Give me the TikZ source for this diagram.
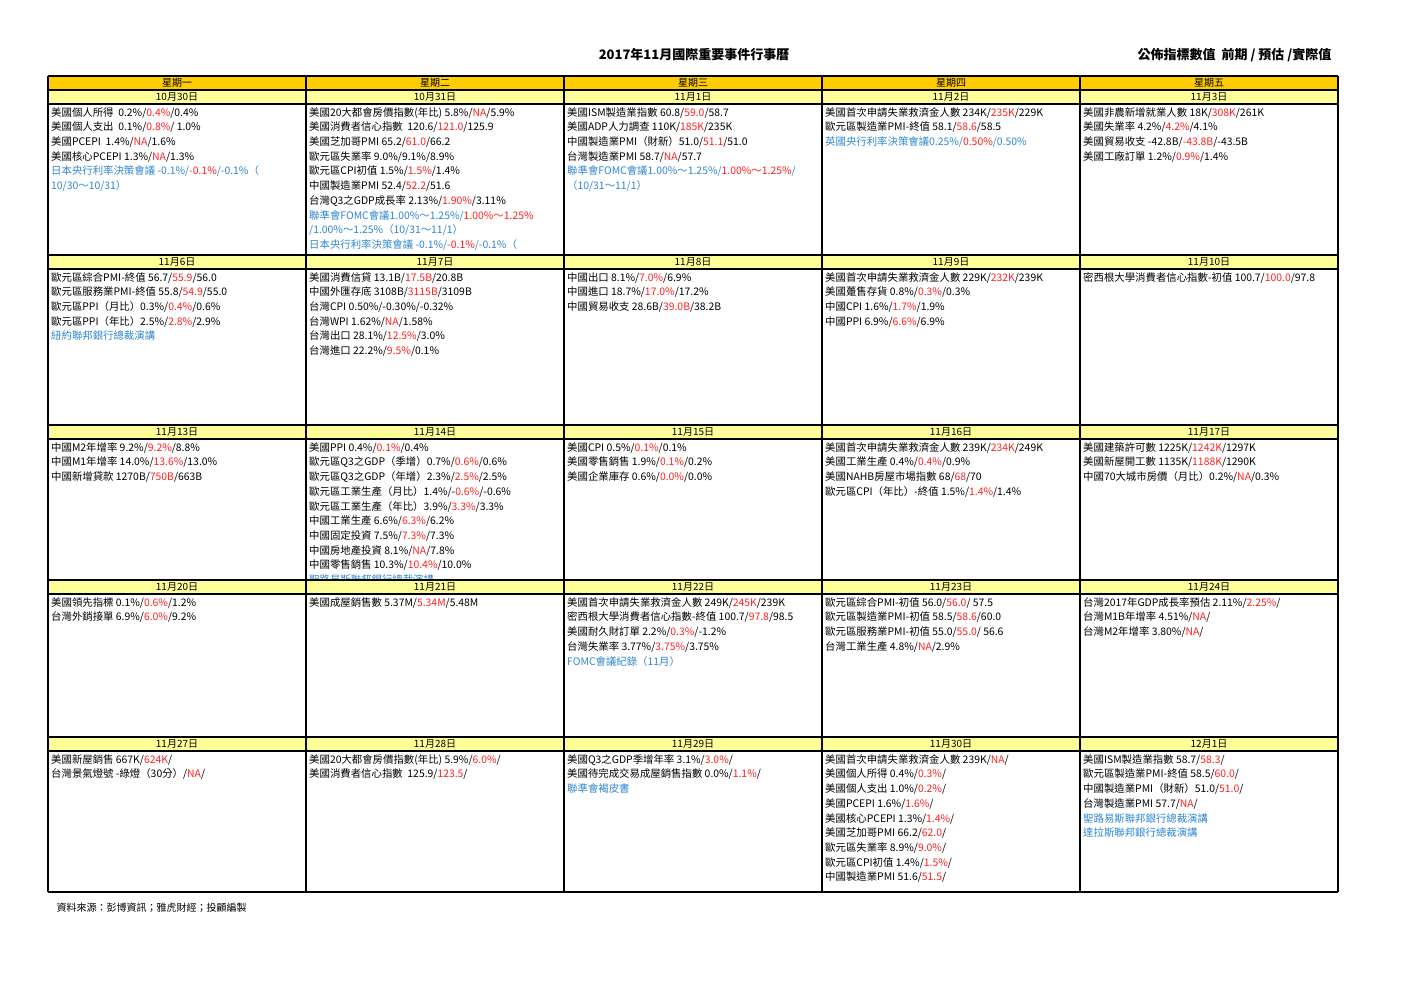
\documentclass[tikz,border=0pt]{standalone}
\usepackage{fontspec}
\setmainfont{Noto Sans CJK TC}
\definecolor{hdr}{HTML}{FFCC00}
\definecolor{dte}{HTML}{FFFF99}
\definecolor{blu}{HTML}{2E86D1}
\definecolor{rd}{HTML}{FF2020}
\newcommand\R[1]{\textcolor{rd}{#1}}
\newcommand\Bl[1]{{\color{blu}#1}}
\tikzset{
  cell/.style={anchor=north west,align=left,inner sep=0pt,font=\fontsize{10.4}{14.7}\selectfont},
  day/.style={font=\fontsize{10}{11}\selectfont,inner sep=0pt},
  grid/.style={line width=1.1pt,black},
}
\newcommand\cellc[5]{\begin{scope}\clip (#1,#2) rectangle ++(258,#3);
 \node[cell] (#4) at (#1+3,#2+0.5) {\rule{0pt}{11.5pt}#5};\end{scope}}
\begin{document}
\begin{tikzpicture}[x=1pt,y=-1pt]
\useasboundingbox (0,0) rectangle (1403,992);
\node[font=\fontsize{13}{15}\selectfont\bfseries] (title) at (694,55) {2017年11月國際重要事件行事曆};
\node[font=\fontsize{13}{15}\selectfont\bfseries,anchor=east] (legend) at (1335,55) {公佈指標數值\ \ 前期 / 預估 /實際值};
\fill[hdr] (48,76) rectangle (1338,90);
\foreach \y in {90,255,425,580,737} \fill[dte] (48,\y) rectangle (1338,\y+14);
\foreach \n/\t [count=\i from 0] in {a/星期一,b/星期二,c/星期三,d/星期四,e/星期五}
  \node[day] (h\n) at (48+258*\i+129,83) {\t};
\foreach \t [count=\i from 0] in {10月30日,10月31日,11月1日,11月2日,11月3日} \node[day] (d1\i) at (48+258*\i+129,97) {\t};
\foreach \t [count=\i from 0] in {11月6日,11月7日,11月8日,11月9日,11月10日} \node[day] (d2\i) at (48+258*\i+129,262) {\t};
\foreach \t [count=\i from 0] in {11月13日,11月14日,11月15日,11月16日,11月17日} \node[day] (d3\i) at (48+258*\i+129,432) {\t};
\foreach \t [count=\i from 0] in {11月20日,11月21日,11月22日,11月23日,11月24日} \node[day] (d4\i) at (48+258*\i+129,587) {\t};
\foreach \t [count=\i from 0] in {11月27日,11月28日,11月29日,11月30日,12月1日} \node[day] (d5\i) at (48+258*\i+129,744) {\t};
% row 1
\cellc{48}{104}{151}{c11}{美國個人所得\ \ 0.2\%/\R{0.4\%}/0.4\%\\美國個人支出\ \ 0.1\%/\R{0.8\%}/ 1.0\%\\美國PCEPI\ \ 1.4\%/\R{NA}/1.6\%\\美國核心PCEPI 1.3\%/\R{NA}/1.3\%\\\Bl{日本央行利率決策會議 -0.1\%/\R{-0.1\%}/-0.1\%（}\\\Bl{10/30～10/31）}}
\cellc{306}{104}{151}{c12}{美國20大都會房價指數(年比)\ 5.8\%/\R{NA}/5.9\%\\美國消費者信心指數\ \ 120.6/\R{121.0}/125.9\\美國芝加哥PMI 65.2/\R{61.0}/66.2\\歐元區失業率 9.0\%/9.1\%/8.9\%\\歐元區CPI初值 1.5\%/\R{1.5\%}/1.4\%\\中國製造業PMI\ 52.4/\R{52.2}/51.6\\台灣Q3之GDP成長率 2.13\%/\R{1.90\%}/3.11\%\\\Bl{聯準會FOMC會議1.00\%～1.25\%/\R{1.00\%～1.25\%}}\\\Bl{/1.00\%～1.25\%（10/31～11/1）}\\\Bl{日本央行利率決策會議 -0.1\%/\R{-0.1\%}/-0.1\%（}}
\cellc{564}{104}{151}{c13}{美國ISM製造業指數 60.8/\R{59.0}/58.7\\美國ADP人力調查 110K/\R{185K}/235K\\中國製造業PMI（財新）51.0/\R{51.1}/51.0\\台灣製造業PMI 58.7/\R{NA}/57.7\\\Bl{聯準會FOMC會議1.00\%～1.25\%/\R{1.00\%～1.25\%}/}\\\Bl{（10/31～11/1）}}
\cellc{822}{104}{151}{c14}{美國首次申請失業救濟金人數 234K/\R{235K}/229K\\歐元區製造業PMI-終值 58.1/\R{58.6}/58.5\\\Bl{英國央行利率決策會議0.25\%/\R{0.50\%}/0.50\%}}
\cellc{1080}{104}{151}{c15}{美國非農新增就業人數 18K/\R{308K}/261K\\美國失業率 4.2\%/\R{4.2\%}/4.1\%\\美國貿易收支 -42.8B/\R{-43.8B}/-43.5B\\美國工廠訂單 1.2\%/\R{0.9\%}/1.4\%}
% row 2
\cellc{48}{269}{156}{c21}{歐元區綜合PMI-終值 56.7/\R{55.9}/56.0\\歐元區服務業PMI-終值 55.8/\R{54.9}/55.0\\歐元區PPI（月比）0.3\%/\R{0.4\%}/0.6\%\\歐元區PPI（年比）2.5\%/\R{2.8\%}/2.9\%\\\Bl{紐約聯邦銀行總裁演講}}
\cellc{306}{269}{156}{c22}{美國消費信貸 13.1B/\R{17.5B}/20.8B\\中國外匯存底 3108B/\R{3115B}/3109B\\台灣CPI\ 0.50\%/-0.30\%/-0.32\%\\台灣WPI\ 1.62\%/\R{NA}/1.58\%\\台灣出口 28.1\%/\R{12.5\%}/3.0\%\\台灣進口 22.2\%/\R{9.5\%}/0.1\%}
\cellc{564}{269}{156}{c23}{中國出口 8.1\%/\R{7.0\%}/6.9\%\\中國進口 18.7\%/\R{17.0\%}/17.2\%\\中國貿易收支 28.6B/\R{39.0B}/38.2B}
\cellc{822}{269}{156}{c24}{美國首次申請失業救濟金人數 229K/\R{232K}/239K\\美國躉售存貨 0.8\%/\R{0.3\%}/0.3\%\\中國CPI 1.6\%/\R{1.7\%}/1.9\%\\中國PPI 6.9\%/\R{6.6\%}/6.9\%}
\cellc{1080}{269}{156}{c25}{密西根大學消費者信心指數-初值 100.7/\R{100.0}/97.8}
% row 3
\cellc{48}{439}{141}{c31}{中國M2年增率 9.2\%/\R{9.2\%}/8.8\%\\中國M1年增率 14.0\%/\R{13.6\%}/13.0\%\\中國新增貸款 1270B/\R{750B}/663B}
\cellc{306}{439}{141}{c32}{美國PPI 0.4\%/\R{0.1\%}/0.4\%\\歐元區Q3之GDP（季增）0.7\%/\R{0.6\%}/0.6\%\\歐元區Q3之GDP（年增）2.3\%/\R{2.5\%}/2.5\%\\歐元區工業生產（月比）1.4\%/-\R{0.6\%}/-0.6\%\\歐元區工業生產（年比）3.9\%/\R{3.3\%}/3.3\%\\中國工業生產 6.6\%/\R{6.3\%}/6.2\%\\中國固定投資 7.5\%/\R{7.3\%}/7.3\%\\中國房地產投資 8.1\%/\R{NA}/7.8\%\\中國零售銷售 10.3\%/\R{10.4\%}/10.0\%\\\Bl{聖路易斯聯邦銀行總裁演講}}
\cellc{564}{439}{141}{c33}{美國CPI\ 0.5\%/\R{0.1\%}/0.1\%\\美國零售銷售 1.9\%/\R{0.1\%}/0.2\%\\美國企業庫存 0.6\%/\R{0.0\%}/0.0\%}
\cellc{822}{439}{141}{c34}{美國首次申請失業救濟金人數 239K/\R{234K}/249K\\美國工業生產 0.4\%/\R{0.4\%}/0.9\%\\美國NAHB房屋市場指數 68/\R{68}/70\\歐元區CPI（年比）-終值 1.5\%/\R{1.4\%}/1.4\%}
\cellc{1080}{439}{141}{c35}{美國建築許可數 1225K/\R{1242K}/1297K\\美國新屋開工數 1135K/\R{1188K}/1290K\\中國70大城市房價（月比）0.2\%/\R{NA}/0.3\%}
% row 4
\cellc{48}{594}{143}{c41}{美國領先指標 0.1\%/\R{0.6\%}/1.2\%\\台灣外銷接單 6.9\%/\R{6.0\%}/9.2\%}
\cellc{306}{594}{143}{c42}{美國成屋銷售數 5.37M/\R{5.34M}/5.48M}
\cellc{564}{594}{143}{c43}{美國首次申請失業救濟金人數 249K/\R{245K}/239K\\密西根大學消費者信心指數-終值 100.7/\R{97.8}/98.5\\美國耐久財訂單 2.2\%/\R{0.3\%}/-1.2\%\\台灣失業率 3.77\%/\R{3.75\%}/3.75\%\\\Bl{FOMC會議紀錄（11月）}}
\cellc{822}{594}{143}{c44}{歐元區綜合PMI-初值 56.0/\R{56.0}/\ 57.5\\歐元區製造業PMI-初值\ 58.5/\R{58.6}/60.0\\歐元區服務業PMI-初值 55.0/\R{55.0}/\ 56.6\\台灣工業生產\ 4.8\%/\R{NA}/2.9\%}
\cellc{1080}{594}{143}{c45}{台灣2017年GDP成長率預估 2.11\%/\R{2.25\%}/\\台灣M1B年增率\ 4.51\%/\R{NA}/\\台灣M2年增率 3.80\%/\R{NA}/}
% row 5
\cellc{48}{751}{141}{c51}{美國新屋銷售 667K/\R{624K}/\\台灣景氣燈號 -綠燈（30分）/\R{NA}/}
\cellc{306}{751}{141}{c52}{美國20大都會房價指數(年比) 5.9\%/\R{6.0\%}/\\美國消費者信心指數\ \ 125.9/\R{123.5}/}
\cellc{564}{751}{141}{c53}{美國Q3之GDP季增年率 3.1\%/\R{3.0\%}/\\美國待完成交易成屋銷售指數 0.0\%/\R{1.1\%}/\\\Bl{聯準會褐皮書}}
\cellc{822}{751}{141}{c54}{美國首次申請失業救濟金人數 239K/\R{NA}/\\美國個人所得 0.4\%/\R{0.3\%}/\\美國個人支出\ 1.0\%/\R{0.2\%}/\\美國PCEPI 1.6\%/\R{1.6\%}/\\美國核心PCEPI 1.3\%/\R{1.4\%}/\\美國芝加哥PMI 66.2/\R{62.0}/\\歐元區失業率\ 8.9\%/\R{9.0\%}/\\歐元區CPI初值 1.4\%/\R{1.5\%}/\\中國製造業PMI 51.6/\R{51.5}/}
\cellc{1080}{751}{141}{c55}{美國ISM製造業指數 58.7/\R{58.3}/\\歐元區製造業PMI-終值 58.5/\R{60.0}/\\中國製造業PMI（財新）51.0/\R{51.0}/\\台灣製造業PMI\ 57.7/\R{NA}/\\\Bl{聖路易斯聯邦銀行總裁演講}\\\Bl{達拉斯聯邦銀行總裁演講}}
% grid
\foreach \x in {48,306,564,822,1080,1338} \draw[grid] (\x,76) -- (\x,892);
\foreach \y in {76,90,104,255,269,425,439,580,594,737,751,892} \draw[grid] (48,\y) -- (1338,\y);
\node[font=\fontsize{10}{11}\selectfont,anchor=west] (src) at (53,908) {資料來源：彭博資訊；雅虎財經；投顧編製};
\end{tikzpicture}
\end{document}
